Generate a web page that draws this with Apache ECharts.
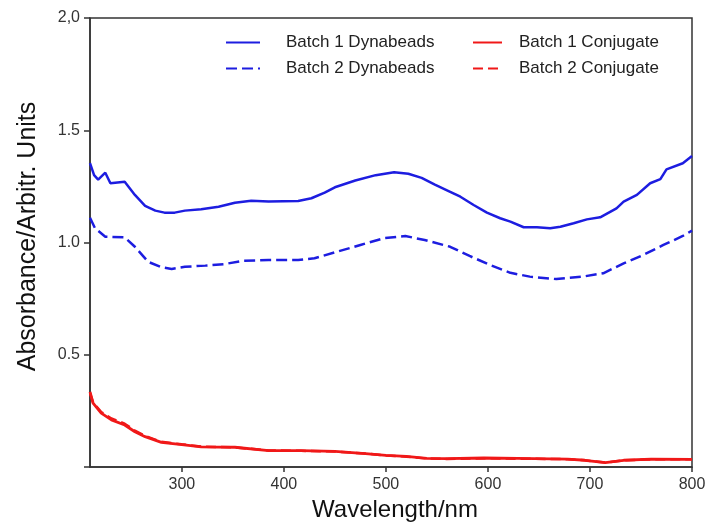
<!DOCTYPE html>
<html>
<head>
<meta charset="utf-8">
<script src="https://cdn.jsdelivr.net/npm/echarts@6/dist/echarts.min.js"></script>
<style>
  html, body { margin: 0; padding: 0; background: #fff; }
  #chart { width: 709px; height: 523px; }
</style>
</head>
<body>
<div id="chart"></div>
<script>
// Absorbance spectra of two Dynabeads batches and their conjugates
const dyna1Wl  = [210, 214, 218, 225, 230, 244, 254, 264, 274, 283, 293, 303, 319, 336, 352, 368, 385, 414, 427, 440, 450, 470, 490, 508, 522, 535, 548, 563, 573, 586, 599, 612, 622, 635, 648, 661, 671, 684, 697, 710, 726, 733, 746, 759, 769, 775, 791, 800];
const dyna1Abs = [1.354, 1.30, 1.28, 1.311, 1.264, 1.271, 1.212, 1.163, 1.142, 1.133, 1.133, 1.142, 1.148, 1.159, 1.177, 1.186, 1.183, 1.185, 1.197, 1.222, 1.246, 1.276, 1.300, 1.313, 1.306, 1.288, 1.258, 1.226, 1.204, 1.167, 1.133, 1.108, 1.093, 1.068, 1.068, 1.063, 1.070, 1.086, 1.103, 1.112, 1.152, 1.182, 1.212, 1.264, 1.282, 1.326, 1.353, 1.385];

const dyna2Wl  = [210, 215, 225, 244, 254, 267, 280, 290, 303, 323, 342, 359, 385, 414, 430, 450, 475, 499, 519, 538, 563, 582, 602, 622, 641, 667, 693, 713, 733, 752, 772, 791, 800];
const dyna2Abs = [1.11, 1.063, 1.026, 1.023, 0.981, 0.914, 0.890, 0.882, 0.892, 0.897, 0.904, 0.918, 0.922, 0.922, 0.930, 0.956, 0.989, 1.02, 1.029, 1.011, 0.981, 0.940, 0.900, 0.865, 0.848, 0.837, 0.848, 0.863, 0.907, 0.944, 0.989, 1.029, 1.053];

const conj1Wl  = [210, 213, 221, 231, 244, 254, 264, 280, 300, 319, 352, 385, 417, 450, 480, 500, 520, 540, 560, 596, 629, 678, 695, 715, 733, 760, 800];
const conj1Abs = [0.335, 0.285, 0.24, 0.21, 0.187, 0.157, 0.135, 0.11, 0.10, 0.09, 0.088, 0.073, 0.073, 0.07, 0.06, 0.052, 0.047, 0.038, 0.037, 0.04, 0.038, 0.035, 0.03, 0.019, 0.03, 0.035, 0.034];

const conj2Wl  = [210, 213, 221, 231, 244, 254, 264, 280, 300, 319, 352, 385, 417, 450, 480, 500, 520, 540, 560, 596, 629, 678, 695, 715, 733, 760, 800];
const conj2Abs = [0.33, 0.288, 0.245, 0.216, 0.193, 0.162, 0.138, 0.112, 0.101, 0.091, 0.087, 0.074, 0.072, 0.069, 0.06, 0.051, 0.046, 0.038, 0.036, 0.039, 0.037, 0.035, 0.03, 0.02, 0.03, 0.034, 0.034];

const seriesNames = ['Batch 1 Dynabeads', 'Batch 2 Dynabeads', 'Batch 1 Conjugate', 'Batch 2 Conjugate'];
const yTickLabels = { 0.5: '0.5', 1: '1.0', 1.5: '1.5', 2: '2,0' };

const pairs = (xs, ys) => xs.map((x, i) => [x, ys[i]]);

const BLUE = '#1d1de0';
const RED = '#f01818';
const FONT = 'Liberation Sans, Arial, sans-serif';

const chart = echarts.init(document.getElementById('chart'), null, { renderer: 'canvas' });

// two legend columns, line-only keys
const legendColumn = (left, names, keyWidth, textGap) => ({
  orient: 'vertical',
  left: left,
  top: 29,
  data: names,
  itemWidth: keyWidth,
  itemHeight: 14,
  itemGap: 9,
  itemStyle: { opacity: 0 },
  textStyle: { fontFamily: FONT, fontSize: 17, color: '#222', padding: [0, 0, 0, textGap] }
});

chart.setOption({
  animation: false,
  backgroundColor: '#fff',
  grid: {
    left: 90, right: 17, top: 18, bottom: 56,
    outerBoundsMode: 'none',
    containLabel: false,
    show: true, borderColor: '#333', borderWidth: 1.5, backgroundColor: 'transparent'
  },
  legend: [
    legendColumn(220, [seriesNames[0], seriesNames[1]], 34, 21),
    legendColumn(467, [seriesNames[2], seriesNames[3]], 29, 12)
  ],
  xAxis: {
    type: 'value',
    min: 210, max: 800,
    name: 'Wavelength/nm',
    nameLocation: 'middle',
    nameGap: 31,
    nameTextStyle: { fontFamily: FONT, fontSize: 24, color: '#111', padding: [0, 0, 0, 8] },
    axisLine: { lineStyle: { color: '#333', width: 1.5 } },
    axisTick: { show: true, length: 5, lineStyle: { color: '#333', width: 1.5 },
      customValues: [300, 400, 500, 600, 700, 800] },
    axisLabel: { fontFamily: FONT, fontSize: 16, color: '#333', margin: 10,
      customValues: [300, 400, 500, 600, 700, 800] },
    splitLine: { show: false }
  },
  yAxis: {
    type: 'value',
    min: 0, max: 2, interval: 0.5,
    name: 'Absorbance/Arbitr. Units',
    nameLocation: 'middle',
    nameGap: 49,
    nameTextStyle: { fontFamily: FONT, fontSize: 25, color: '#111', padding: [0, 0, 0, 12] },
    axisLine: { show: true, lineStyle: { color: '#333', width: 1.5 } },
    axisTick: { show: true, length: 6, lineStyle: { color: '#333', width: 1.5 } },
    axisLabel: {
      fontFamily: FONT, fontSize: 16, color: '#333', margin: 10,
      formatter: v => yTickLabels[v] || ''
    },
    splitLine: { show: false }
  },
  series: [
    { name: seriesNames[0], type: 'line', data: pairs(dyna1Wl, dyna1Abs), symbol: 'none',
      lineStyle: { color: BLUE, width: 2.5 }, itemStyle: { color: BLUE } },
    { name: seriesNames[1], type: 'line', data: pairs(dyna2Wl, dyna2Abs), symbol: 'none',
      lineStyle: { color: BLUE, width: 2.5, type: [11, 5] }, itemStyle: { color: BLUE } },
    { name: seriesNames[3], type: 'line', data: pairs(conj2Wl, conj2Abs), symbol: 'none',
      lineStyle: { color: RED, width: 2.5, type: [10, 5] }, itemStyle: { color: RED } },
    { name: seriesNames[2], type: 'line', data: pairs(conj1Wl, conj1Abs), symbol: 'none',
      lineStyle: { color: RED, width: 2.8 }, itemStyle: { color: RED } }
  ]
});
</script>
</body>
</html>
